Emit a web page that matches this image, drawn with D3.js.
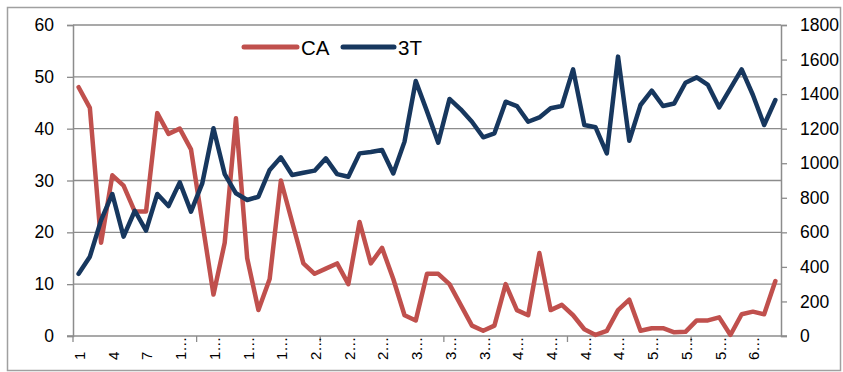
<!DOCTYPE html>
<html>
<head>
<meta charset="utf-8">
<script src="https://cdn.jsdelivr.net/npm/d3@7"></script>
<style>
  html, body { margin: 0; padding: 0; background: #fff; }
  svg { display: block; }
  text { font-family: "Liberation Sans", "DejaVu Sans", sans-serif; fill: #000; }
</style>
</head>
<body>
<svg id="chart" width="843" height="372"></svg>
<script>
const categories = ["1","2","3","4","5","6","7","8","9","10","11","12","13","14","15","16","17","18","19","20",
  "21","22","23","24","25","26","27","28","29","30","31","32","33","34","35","36","37","38","39","40",
  "41","42","43","44","45","46","47","48","49","50","51","52","53","54","55","56","57","58","59","60",
  "61","62","63"];

const caValues = [48, 44, 18, 31, 29, 24, 24, 43, 39, 40, 36, 22, 8, 18, 42, 15,
  5, 11, 30, 22, 14, 12, 13, 14, 10, 22, 14, 17, 11, 4, 3,
  12, 12, 10, 6, 2, 1, 2, 10, 5, 4, 16, 5, 6, 4, 1.3, 0.2,
  1, 5, 7, 1, 1.5, 1.5, 0.7, 0.8, 3, 3, 3.6, 0.2, 4.2, 4.7, 4.2, 10.6];

const t3Values = [360, 459, 671, 822, 575, 725, 610, 822, 752, 889, 720, 883, 1202, 937, 826, 787,
  806, 961, 1034, 932, 945, 957, 1028, 937, 922, 1057, 1065, 1076, 941, 1125, 1476,
  1300, 1119, 1372, 1312, 1240, 1150, 1173, 1356, 1331, 1240, 1265, 1318, 1331, 1543, 1221, 1208,
  1057, 1617, 1130, 1337, 1420, 1331, 1346, 1466, 1497, 1453, 1323, 1433, 1543, 1395, 1221, 1366];

const leftTicks = [0, 10, 20, 30, 40, 50, 60];
const rightTicks = [0, 200, 400, 600, 800, 1000, 1200, 1400, 1600, 1800];
const seriesNames = ["CA", "3T"];
const seriesColors = ["#C0504D", "#17375E"];

const svg = d3.select("#chart");
const m = { left: 73, right: 781, top: 25, bottom: 336 };
const grey = "#8c8c8c";

// outer chart border
svg.append("rect").attr("x", 7.5).attr("y", 7.5).attr("width", 833).attr("height", 363)
  .attr("fill", "#fff").attr("stroke", "#a0a0a0").attr("stroke-width", 1.5);

const x = d3.scaleBand().domain(categories).range([m.left, m.right]).padding(0);
const yL = d3.scaleLinear().domain([0, 60]).range([m.bottom, m.top]);
const yR = d3.scaleLinear().domain([0, 1800]).range([m.bottom, m.top]);
const cx = d => x(d) + x.bandwidth() / 2;

// gridlines
svg.append("g").selectAll("line").data(leftTicks.filter(v => v > 0)).join("line")
  .attr("x1", m.left).attr("x2", m.right)
  .attr("y1", d => yL(d)).attr("y2", d => yL(d))
  .attr("stroke", grey).attr("stroke-width", 1.3);

// left axis
const gL = svg.append("g").attr("transform", `translate(${m.left},0)`)
  .call(d3.axisLeft(yL).tickValues(leftTicks).tickFormat(d3.format("d")).tickSize(6).tickPadding(13));
gL.select(".domain").attr("stroke", grey).attr("stroke-width", 1.5);
gL.selectAll(".tick line").attr("stroke", grey).attr("stroke-width", 1.3);
gL.selectAll("text").style("font-size", "17.5px").style("font-family", "Liberation Sans, sans-serif");

// right axis
const gR = svg.append("g").attr("transform", `translate(${m.right},0)`)
  .call(d3.axisRight(yR).tickValues(rightTicks).tickFormat(d3.format("d")).tickSize(6).tickPadding(13));
gR.select(".domain").attr("stroke", grey).attr("stroke-width", 1.5);
gR.selectAll(".tick line").attr("stroke", grey).attr("stroke-width", 1.3);
gR.selectAll("text").style("font-size", "17.5px").style("font-family", "Liberation Sans, sans-serif");

// bottom axis line
svg.append("line").attr("x1", m.left - 6).attr("x2", m.right + 6)
  .attr("y1", m.bottom).attr("y2", m.bottom)
  .attr("stroke", grey).attr("stroke-width", 1.5);

// category tick marks (every 11 categories, at band boundaries)
const tickIdx = d3.range(0, categories.length + 1, 11);
svg.append("g").selectAll("line").data(tickIdx).join("line")
  .attr("x1", i => m.left + i * x.bandwidth()).attr("x2", i => m.left + i * x.bandwidth())
  .attr("y1", m.bottom).attr("y2", m.bottom + 6)
  .attr("stroke", grey).attr("stroke-width", 1.3);

// category labels (every 3rd, truncated like the original)
const labelCats = categories.filter((d, i) => i % 3 === 0);
const fmt = s => s.length > 1 ? s[0] + "\u2026" : s;
svg.append("g").selectAll("text").data(labelCats).join("text")
  .attr("transform", d => `translate(${cx(d) + 1},${360}) rotate(-90)`)
  .attr("dy", "0.36em")
  .attr("text-anchor", "start")
  .style("font-size", "15px")
  .text(fmt);

// lines
const lineL = d3.line().x((d, i) => cx(categories[i])).y(d => yL(d));
const lineR = d3.line().x((d, i) => cx(categories[i])).y(d => yR(d));

svg.append("path").datum(caValues).attr("d", lineL)
  .attr("fill", "none").attr("stroke", seriesColors[0]).attr("stroke-width", 4.5)
  .attr("stroke-linejoin", "round").attr("stroke-linecap", "round");
svg.append("path").datum(t3Values).attr("d", lineR)
  .attr("fill", "none").attr("stroke", seriesColors[1]).attr("stroke-width", 4.5)
  .attr("stroke-linejoin", "round").attr("stroke-linecap", "round");

// legend
const legendItems = [
  { name: seriesNames[0], color: seriesColors[0], x1: 244, x2: 297, tx: 301 },
  { name: seriesNames[1], color: seriesColors[1], x1: 343, x2: 394, tx: 398 }
];
const lg = svg.append("g");
legendItems.forEach(it => {
  lg.append("line").attr("x1", it.x1).attr("x2", it.x2).attr("y1", 47).attr("y2", 47)
    .attr("stroke", it.color).attr("stroke-width", 5).attr("stroke-linecap", "round");
  lg.append("text").attr("x", it.tx).attr("y", 55).style("font-size", "20.5px").text(it.name);
});
</script>
</body>
</html>
